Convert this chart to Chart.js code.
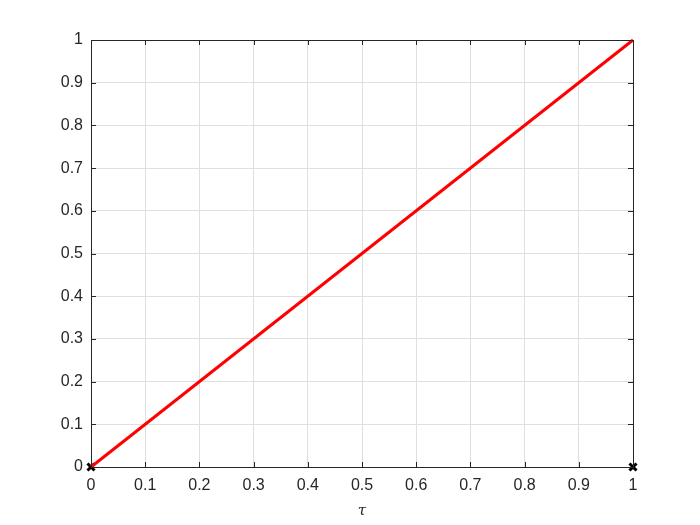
<!DOCTYPE html>
<html>
<head>
<meta charset="utf-8">
<script src="https://cdn.jsdelivr.net/npm/chart.js@4"></script>
<style>
  body { margin: 0; background: #fff; }
  #wrap { width: 700px; height: 525px; }
</style>
</head>
<body>
<div id="wrap"><canvas id="plot" width="700" height="525"></canvas></div>
<script>
// data
const lineX = [0, 1];
const lineY = [0, 1];
const markX = [0, 1];
const markY = [0, 0];
const tickValues = [0, 0.1, 0.2, 0.3, 0.4, 0.5, 0.6, 0.7, 0.8, 0.9, 1];

const axisColor = "#262626";

// MATLAB-like inward ticks on all four sides
const innerTicks = {
  id: "innerTicks",
  afterDatasetsDraw(chart) {
    const { ctx, chartArea: a, scales } = chart;
    ctx.save();
    ctx.strokeStyle = axisColor;
    ctx.lineWidth = 1;
    ctx.beginPath();
    tickValues.forEach((v) => {
      const px = Math.round(scales.x.getPixelForValue(v)) + 0.5;
      ctx.moveTo(px, a.bottom);
      ctx.lineTo(px, a.bottom - 5);
      ctx.moveTo(px, a.top);
      ctx.lineTo(px, a.top + 5);
      const py = Math.round(scales.y.getPixelForValue(v)) + 0.5;
      ctx.moveTo(a.left, py);
      ctx.lineTo(a.left + 5, py);
      ctx.moveTo(a.right, py);
      ctx.lineTo(a.right - 5, py);
    });
    ctx.stroke();
    ctx.strokeRect(a.left + 0.5, a.top + 0.5, a.right - a.left, a.bottom - a.top);
    ctx.restore();
  },
};

const ctx = document.getElementById("plot").getContext("2d");
new Chart(ctx, {
  type: "scatter",
  data: {
    datasets: [
      {
        data: lineX.map((x, i) => ({ x: x, y: lineY[i] })),
        showLine: true,
        borderColor: "#ff0000",
        borderWidth: 3,
        pointRadius: 0,
        clip: false,
      },
      {
        data: markX.map((x, i) => ({ x: x, y: markY[i] })),
        showLine: false,
        pointStyle: "crossRot",
        pointRadius: 5,
        borderColor: "#000000",
        pointBorderWidth: 3,
        clip: false,
      },
    ],
  },
  options: {
    responsive: false,
    animation: false,
    layout: { padding: { top: 40, right: 67, left: 0, bottom: 0 } },
    plugins: { legend: { display: false }, tooltip: { enabled: false } },
    scales: {
      x: {
        type: "linear",
        min: 0,
        max: 1,
        afterFit: (s) => { s.height = 58; },
        afterBuildTicks: (s) => { s.ticks = tickValues.map((v) => ({ value: v })); },
        grid: { color: "#dfdfdf", drawTicks: false },
        border: { display: false },
        ticks: {
          color: axisColor,
          padding: 9,
          font: { family: "Liberation Sans", size: 16 },
          maxRotation: 0,
          callback: (v) => String(v),
        },
        title: {
          display: true,
          text: "τ",
          color: axisColor,
          padding: { top: 0, bottom: 5 },
          font: { family: "DejaVu Serif", style: "italic", size: 15 },
        },
      },
      y: {
        type: "linear",
        min: 0,
        max: 1,
        afterFit: (s) => { s.width = 91; },
        afterBuildTicks: (s) => { s.ticks = tickValues.map((v) => ({ value: v })); },
        grid: { color: "#dfdfdf", drawTicks: false },
        border: { display: false },
        ticks: {
          color: axisColor,
          padding: 8,
          font: { family: "Liberation Sans", size: 16 },
          callback: (v) => String(v),
        },
      },
    },
  },
  plugins: [innerTicks],
});
</script>
</body>
</html>
